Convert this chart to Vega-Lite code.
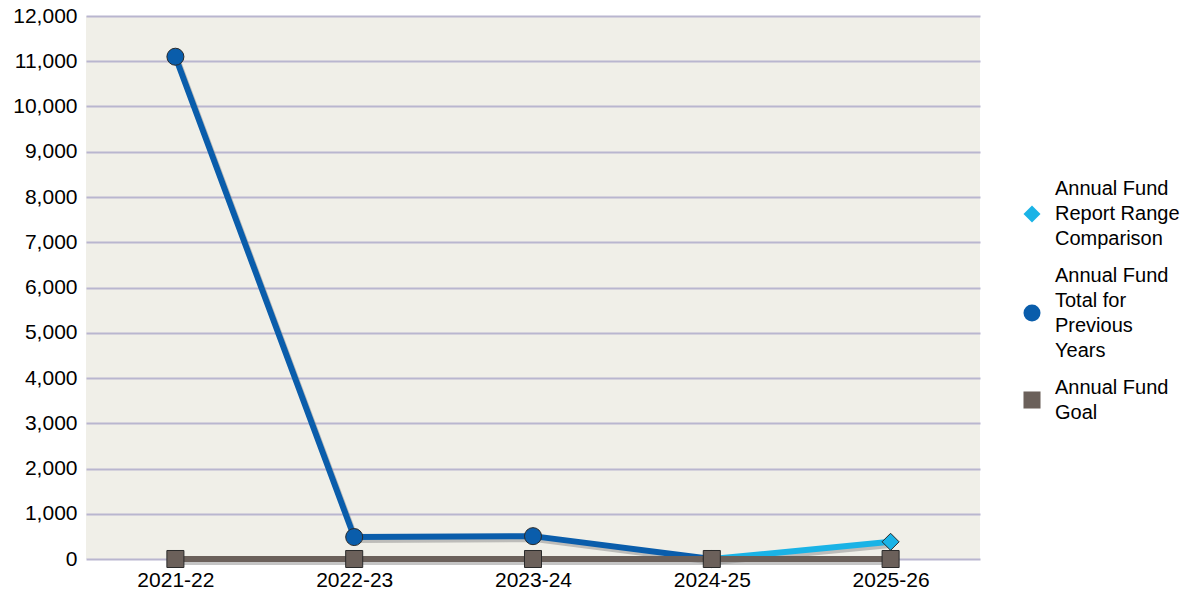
{
  "$schema": "https://vega.github.io/schema/vega-lite/v6.json",
  "width": 894,
  "height": 543,
  "autosize": {"type": "none"},
  "padding": {"left": 86, "top": 16, "right": 206, "bottom": 36},
  "background": "#ffffff",
  "config": {
    "view": {"fill": "#f0efe8", "stroke": null},
    "font": "Liberation Sans",
    "style": {"guide-label": {"lineBreak": "|", "lineHeight": 25}}
  },
  "data": {
    "values": [
      {"series": "Annual Fund Report Range Comparison", "year": "2024-25", "value": 0},
      {"series": "Annual Fund Report Range Comparison", "year": "2025-26", "value": 380},
      {"series": "Annual Fund Total for Previous Years", "year": "2021-22", "value": 11100},
      {"series": "Annual Fund Total for Previous Years", "year": "2022-23", "value": 485},
      {"series": "Annual Fund Total for Previous Years", "year": "2023-24", "value": 505},
      {"series": "Annual Fund Total for Previous Years", "year": "2024-25", "value": 0},
      {"series": "Annual Fund Goal", "year": "2021-22", "value": 0},
      {"series": "Annual Fund Goal", "year": "2022-23", "value": 0},
      {"series": "Annual Fund Goal", "year": "2023-24", "value": 0},
      {"series": "Annual Fund Goal", "year": "2024-25", "value": 0},
      {"series": "Annual Fund Goal", "year": "2025-26", "value": 0}
    ]
  },
  "encoding": {
    "x": {
      "field": "year",
      "type": "ordinal",
      "scale": {"type": "point", "padding": 0.5},
      "axis": {
        "title": null,
        "labelAngle": 0,
        "labelFontSize": 21,
        "labelColor": "#000000",
        "labelPadding": 10,
        "ticks": false,
        "domain": false,
        "grid": false
      }
    },
    "y": {
      "field": "value",
      "type": "quantitative",
      "scale": {"domain": [0, 12000], "nice": false},
      "axis": {
        "title": null,
        "values": [0, 1000, 2000, 3000, 4000, 5000, 6000, 7000, 8000, 9000, 10000, 11000, 12000],
        "format": ",d",
        "labelFontSize": 21,
        "labelColor": "#000000",
        "labelPadding": 9,
        "ticks": false,
        "domain": false,
        "grid": true,
        "gridColor": "#b9b6cf",
        "gridWidth": 2,
        "gridOpacity": 1
      }
    },
    "color": {
      "field": "series",
      "type": "nominal",
      "scale": {
        "domain": ["Annual Fund Report Range Comparison", "Annual Fund Total for Previous Years", "Annual Fund Goal"],
        "range": ["#1ab3e6", "#0a5dab", "#6b605a"]
      },
      "legend": {
        "title": null,
        "orient": "none",
        "legendX": 936,
        "legendY": 188,
        "padding": 0,
        "labelFontSize": 20,
        "labelColor": "#000000",
        "labelLimit": 200,
        "labelOffset": 13,
        "labelBaseline": "middle",
        "rowPadding": 16,
        "symbolSize": 290,
        "symbolStrokeWidth": 0,
        "labelExpr": "datum.label == 'Annual Fund Report Range Comparison' ? 'Annual Fund|Report Range|Comparison' : datum.label == 'Annual Fund Total for Previous Years' ? 'Annual Fund|Total for|Previous|Years' : 'Annual Fund|Goal'",
        "encode": {
          "labels": {
            "update": {
              "dy": {"signal": "datum.value == 'Annual Fund Report Range Comparison' ? -25 : datum.value == 'Annual Fund Total for Previous Years' ? -37.5 : -12.5"}
            }
          }
        }
      }
    }
  },
  "layer": [
    {
      "mark": {"type": "line", "strokeWidth": 6, "color": "#8a8a8a", "opacity": 0.5},
      "encoding": {
        "color": {"value": "#8a8a8a"},
        "detail": {"field": "series"},
        "xOffset": {"value": 2},
        "yOffset": {"value": 3}
      }
    },
    {
      "mark": {"type": "line", "strokeWidth": 6}
    },
    {
      "mark": {"type": "point", "filled": true, "size": 290, "opacity": 1, "stroke": "#2a2a2a", "strokeWidth": 1},
      "encoding": {
        "shape": {
          "field": "series",
          "type": "nominal",
          "scale": {
            "domain": ["Annual Fund Report Range Comparison", "Annual Fund Total for Previous Years", "Annual Fund Goal"],
            "range": ["diamond", "circle", "square"]
          },
          "legend": {
            "title": null,
            "orient": "none",
            "legendX": 936,
            "legendY": 188,
            "padding": 0,
            "labelFontSize": 20,
            "labelColor": "#000000",
            "labelLimit": 200,
            "labelOffset": 13,
            "labelBaseline": "middle",
            "rowPadding": 16,
            "symbolSize": 290,
            "symbolStrokeWidth": 0,
            "labelExpr": "datum.label == 'Annual Fund Report Range Comparison' ? 'Annual Fund|Report Range|Comparison' : datum.label == 'Annual Fund Total for Previous Years' ? 'Annual Fund|Total for|Previous|Years' : 'Annual Fund|Goal'",
            "encode": {
              "labels": {
                "update": {
                  "dy": {"signal": "datum.value == 'Annual Fund Report Range Comparison' ? -25 : datum.value == 'Annual Fund Total for Previous Years' ? -37.5 : -12.5"}
                }
              }
            }
          }
        }
      }
    }
  ]
}
